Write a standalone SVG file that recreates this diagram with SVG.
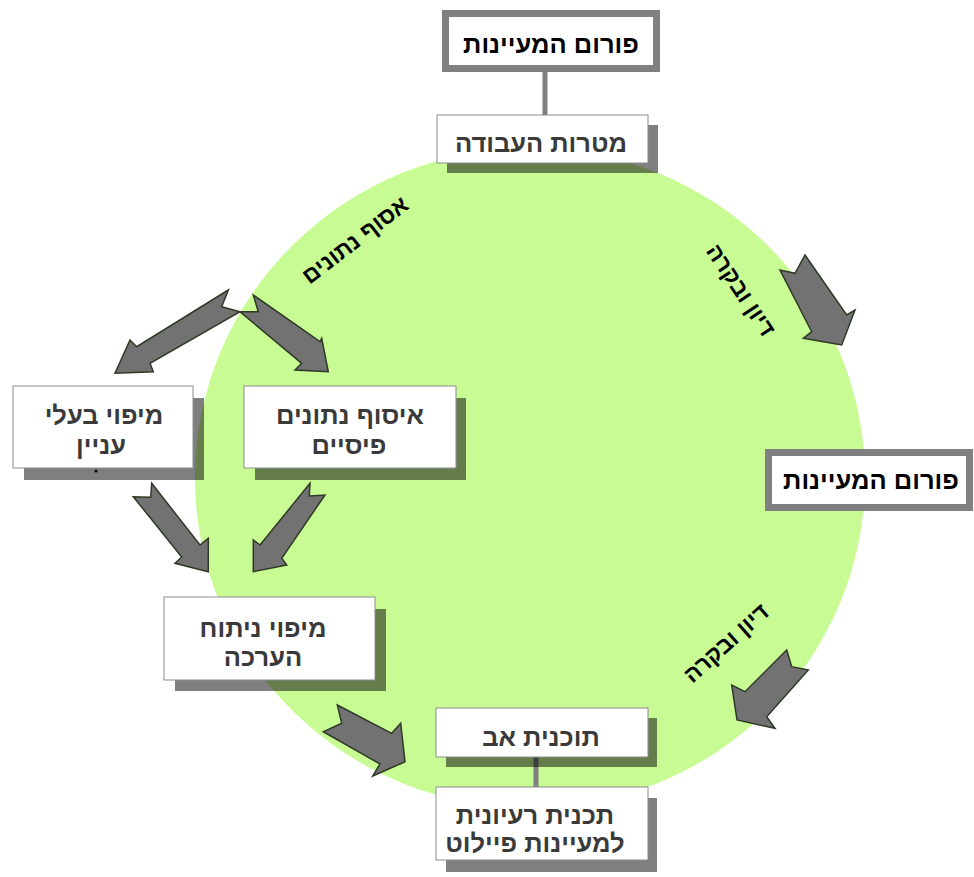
<svg xmlns="http://www.w3.org/2000/svg" width="974" height="877" viewBox="0 0 974 877">
<defs>
<style>
.bg{fill:#ffffff}
.disk{fill:#c9fb95}
.box{fill:#ffffff;stroke:#8c8c8c;stroke-width:1}
.shadow{fill:#000000;fill-opacity:0.5}
.forum{fill:#ffffff;stroke:#808080;stroke-width:7}
.t{font-family:"Liberation Sans","DejaVu Sans",sans-serif;font-weight:bold;font-size:25.5px;fill:#3a3a3a;text-anchor:middle}
.tb{fill:#000000}
.rot{font-family:"Liberation Sans","DejaVu Sans",sans-serif;font-weight:bold;font-size:23px;fill:#000000;text-anchor:middle}
.arrow{fill:#727272;stroke:#2f3a26;stroke-width:1.5;stroke-linejoin:miter}
.line{stroke:#7f7f7f;stroke-width:5;fill:none}
</style>
</defs>
<rect class="bg" x="0" y="0" width="974" height="877"/>
<ellipse class="disk" cx="530" cy="478" rx="335" ry="330"/>

<g id="labels">
<text class="rot" transform="translate(355,240) rotate(-37.6)" x="0" y="8">אסוף נתונים</text>
<text class="rot" transform="translate(741,290) rotate(56.5)" x="0" y="8">דיון ובקרה</text>
<text class="rot" transform="translate(726,643) rotate(-41.7)" x="0" y="8">דיון ובקרה</text>
</g>

<g id="connectors">
<line class="line" x1="545" y1="72" x2="545" y2="116"/>
<line class="line" x1="536" y1="757" x2="536" y2="788"/>
<polygon class="arrow" points="805,255 846.7,315 855,310 841.7,345 803.3,338.3 811.7,331.7 780,270 795,273.3"/>
<polygon class="arrow" points="786.7,650 745,691.7 731.7,685 737,720 775,728.3 766.7,716.7 808.3,670 791.7,666.7"/>
<polygon class="arrow" points="228.3,290 136.7,346.7 130,340 115,373.3 153.3,371.7 150,363.3 240,311.7 221.7,306.7"/>
<polygon class="arrow" points="253.3,295 320,341.7 321.7,338.3 328.3,371.7 295,370 301.7,363.3 240,311.7 258.3,311.7"/>
<polygon class="arrow" points="151.7,483.3 200,545 208.3,538.3 208.3,571.7 175,563.3 181.7,557 133.3,496.7 150.7,497.3"/>
<polygon class="arrow" points="310,483.3 260,545 253.3,540 253.3,571.7 286.7,565 281.7,558.3 325,495 309.3,496"/>
<polygon class="arrow" points="337.3,705 391.7,733.3 400.7,723.3 405,761.7 372.7,776 380,764 323.3,731.7 341.7,723.3"/>
</g>

<g id="forum-top">
<rect class="forum" x="445.5" y="13.5" width="211" height="55"/>
<text class="t tb" x="551" y="53">פורום המעיינות</text>
</g>

<g id="goals">
<rect class="shadow" x="447" y="125" width="211" height="48"/>
<rect class="box" x="437" y="115" width="211" height="48"/>
<text class="t" x="541" y="152">מטרות העבודה</text>
</g>

<g id="forum-right">
<rect class="forum" x="768.5" y="452.5" width="201" height="55"/>
<text class="t tb" x="871" y="489">פורום המעיינות</text>
</g>

<g id="stakeholders">
<rect class="shadow" x="24" y="398" width="180" height="82"/>
<rect class="box" x="13" y="386" width="180" height="82"/>
<text class="t" x="104" y="424">מיפוי בעלי</text>
<text class="t" x="101" y="454">עניין</text>
<circle cx="96" cy="471" r="1.5" fill="#000000"/>
</g>

<g id="physical-data">
<rect class="shadow" x="255" y="398" width="211" height="82"/>
<rect class="box" x="244" y="386" width="212" height="82"/>
<text class="t" x="350" y="424">איסוף נתונים</text>
<text class="t" x="349" y="454">פיסיים</text>
</g>

<g id="analysis">
<rect class="shadow" x="175" y="609" width="211" height="82"/>
<rect class="box" x="164" y="597" width="211" height="83"/>
<text class="t" x="263" y="637">מיפוי ניתוח</text>
<text class="t" x="263" y="666">הערכה</text>
</g>

<g id="master-plan">
<rect class="shadow" x="446" y="718" width="211" height="49"/>
<rect class="box" x="436" y="708" width="212" height="49"/>
<text class="t" x="541" y="746">תוכנית אב</text>
</g>

<g id="pilot-plan">
<rect class="shadow" x="446" y="798" width="211" height="74"/>
<rect class="box" x="436" y="787" width="212" height="73"/>
<text class="t" x="535" y="824">תכנית רעיונית</text>
<text class="t" x="535" y="852">למעיינות פיילוט</text>
</g>
</svg>
